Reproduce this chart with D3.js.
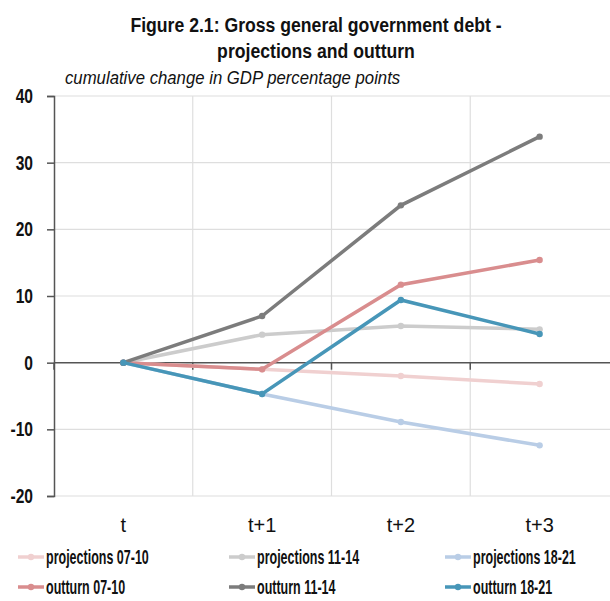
<!DOCTYPE html>
<html>
<head>
<meta charset="utf-8">
<script src="https://cdn.jsdelivr.net/npm/d3@7"></script>
<style>
  body { margin: 0; background: #fff; }
  text { font-family: "Liberation Sans", Arial, sans-serif; }
</style>
</head>
<body>
<div id="chart"></div>
<script>
// data
const periods = ["t", "t+1", "t+2", "t+3"];
const yTicks = [-20, -10, 0, 10, 20, 30, 40];

const proj0710 = [0, -1.0, -2.0, -3.2];
const proj1114 = [0, 4.2, 5.5, 5.0];
const proj1821 = [0, -4.7, -8.9, -12.4];
const out0710 = [0, -1.0, 11.7, 15.4];
const out1114 = [0, 7.0, 23.6, 33.9];
const out1821 = [0, -4.7, 9.4, 4.3];

const series = [
    { name: "projections 07-10", values: proj0710, color: "#f0d0d0" },
    { name: "projections 11-14", values: proj1114, color: "#cccccc" },
    { name: "projections 18-21", values: proj1821, color: "#b9cde6" },
    { name: "outturn 07-10", values: out0710, color: "#d98d8e" },
    { name: "outturn 11-14", values: out1114, color: "#7c7c7c" },
    { name: "outturn 18-21", values: out1821, color: "#4796b8" }
];

const WIDTH = 610;
const HEIGHT = 601;
const margin = { left: 54, right: 0, top: 96, bottom: 105 };

const svg = d3.select("#chart")
    .append("svg")
    .attr("width", WIDTH)
    .attr("height", HEIGHT);

// condensed text helper (squeezes glyphs horizontally)
const addText = (parent, x, y, str, size, opts = {}) => {
    const g = parent.append("g")
        .attr("transform", `translate(${x},${y}) scale(${opts.sx || 0.75},1)`);
    return g.append("text")
        .attr("text-anchor", opts.anchor || "start")
        .style("font-size", size + "px")
        .style("font-weight", opts.weight || "bold")
        .style("font-style", opts.style || "normal")
        .attr("fill", "#111")
        .text(str);
};

// scales
const x = d3.scaleBand()
    .domain(periods)
    .range([margin.left, WIDTH - 1]);

const y = d3.scaleLinear()
    .domain([-20, 40])
    .range([HEIGHT - margin.bottom, margin.top]);

// title
addText(svg, 316, 32, "Figure 2.1: Gross general government debt -", 21, { anchor: "middle", sx: 0.84 });
addText(svg, 316, 58, "projections and outturn", 21, { anchor: "middle", sx: 0.84 });
addText(svg, 65, 84, "cumulative change in GDP percentage points", 18, { weight: "normal", style: "italic", sx: 0.93 });

// gridlines
const grid = svg.append("g");
grid.selectAll("line.h")
    .data(yTicks.filter(d => d !== 0))
    .enter().append("line")
    .attr("x1", margin.left).attr("x2", WIDTH)
    .attr("y1", d => y(d)).attr("y2", d => y(d))
    .attr("stroke", "#dedede").attr("stroke-width", 1.2);
grid.selectAll("line.v")
    .data(periods.slice(1))
    .enter().append("line")
    .attr("x1", d => x(d)).attr("x2", d => x(d))
    .attr("y1", y(40)).attr("y2", y(-20))
    .attr("stroke", "#dedede").attr("stroke-width", 1.2);

// y axis
const yAxis = d3.axisLeft(y)
    .tickValues(yTicks)
    .tickSize(7)
    .tickFormat("");
const yg = svg.append("g")
    .attr("transform", `translate(${margin.left},0)`)
    .call(yAxis);
yg.select(".domain").attr("stroke", "#555").attr("stroke-width", 1.5);
yg.selectAll(".tick line").attr("stroke", "#555").attr("stroke-width", 1.5);
yTicks.forEach(d => {
    addText(svg, 33, y(d) + 7, d, 20, { anchor: "end", sx: 0.78 });
});

// zero axis with ticks at band boundaries
const zg = svg.append("g");
zg.append("line")
    .attr("x1", margin.left).attr("x2", WIDTH)
    .attr("y1", y(0)).attr("y2", y(0))
    .attr("stroke", "#555").attr("stroke-width", 1.5);
zg.selectAll("line.t")
    .data(periods)
    .enter().append("line")
    .attr("x1", d => x(d)).attr("x2", d => x(d))
    .attr("y1", y(0)).attr("y2", y(0) + 7)
    .attr("stroke", "#555").attr("stroke-width", 1.5);

// category labels
periods.forEach(p => {
    addText(svg, x(p) + x.bandwidth() / 2, 532, p, 20, { anchor: "middle", weight: "normal", sx: 1.0 });
});

// lines
const line = d3.line()
    .x((d, i) => x(periods[i]) + x.bandwidth() / 2)
    .y(d => y(d));

const lines = svg.append("g");
series.forEach(s => {
    lines.append("path")
        .datum(s.values)
        .attr("d", line)
        .attr("fill", "none")
        .attr("stroke", s.color)
        .attr("stroke-width", 3.5);
    lines.selectAll(null)
        .data(s.values)
        .enter().append("circle")
        .attr("cx", (d, i) => x(periods[i]) + x.bandwidth() / 2)
        .attr("cy", d => y(d))
        .attr("r", 3.2)
        .attr("fill", s.color);
});

// legend
const legX = [18, 229, 445];
const legY = [564, 594];
const legend = svg.append("g");
series.forEach((s, i) => {
    const lx = legX[i % 3];
    const ly = legY[Math.floor(i / 3)];
    legend.append("line")
        .attr("x1", lx).attr("x2", lx + 26)
        .attr("y1", ly - 7).attr("y2", ly - 7)
        .attr("stroke", s.color).attr("stroke-width", 3.5);
    legend.append("circle")
        .attr("cx", lx + 13).attr("cy", ly - 7)
        .attr("r", 3.2).attr("fill", s.color);
    addText(legend, lx + 28, ly, s.name, 20.5, { sx: 0.61 });
});
</script>
</body>
</html>
